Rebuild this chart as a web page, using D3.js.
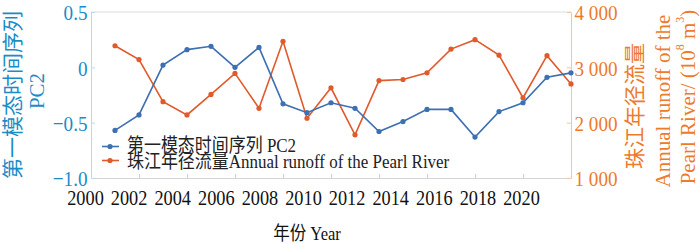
<!DOCTYPE html>
<html>
<head>
<meta charset="utf-8">
<script src="https://cdn.jsdelivr.net/npm/d3@7"></script>
<style>
  html, body { margin: 0; padding: 0; background: #fff; }
  svg { display: block; }
  text { font-family: "Liberation Serif", "Noto Sans CJK SC", serif; }
</style>
</head>
<body>
<svg id="chart" width="700" height="244"></svg>
<script>
const years = [2001,2002,2003,2004,2005,2006,2007,2008,2009,2010,2011,2012,2013,2014,2015,2016,2017,2018,2019,2020];
const pc2 = [-0.57,-0.43,0.02,0.16,0.19,0.0,0.18,-0.33,-0.41,-0.32,-0.37,-0.58,-0.49,-0.38,-0.38,-0.63,-0.40,-0.32,-0.09,-0.05];
const runoff = [3390,3140,2380,2140,2510,2890,2260,3470,2080,2630,1780,2760,2780,2900,3330,3500,3220,2450,3210,2700];
const xTicks = [2000,2002,2004,2006,2008,2010,2012,2014,2016,2018,2020];
const leftTicks = [0.5,0,-0.5,-1.0];
const rightTicks = [4000,3000,2000,1000];
const seriesNames = ["第一模态时间序列 PC2","珠江年径流量Annual runoff of the Pearl River"];

const W = 700, H = 244;
const m = {left: 91, right: 129, top: 12, bottom: 66};
const svg = d3.select("#chart");
const SX = 0.87;

const x = d3.scaleLinear().domain([2000,2020]).range([m.left, W - m.right]);
const xLab = d3.scaleLinear().domain([2000,2020]).range([85, 521]);
const yL = d3.scaleLinear().domain([-1.0,0.5]).range([H - m.bottom, m.top]);
const yR = d3.scaleLinear().domain([1000,4000]).range([H - m.bottom, m.top]);

const blue = "#3d6fb3", red = "#e05a2b";
const blueText = "#1a8cc8", orangeText = "#ee7a2c";

// top border
svg.append("line").attr("x1", m.left).attr("x2", W - m.right)
  .attr("y1", m.top).attr("y2", m.top).attr("stroke", "#dcdcdc").attr("stroke-width", 1);

// bottom axis (ticks)
const gx = svg.append("g").attr("transform", `translate(0,${H - m.bottom})`)
  .call(d3.axisBottom(x).tickValues(xTicks).tickSize(-4).tickSizeOuter(0).tickFormat(""));
gx.select(".domain").attr("stroke", "#d4d4d4");
gx.selectAll(".tick line").attr("stroke", "#cfcfcf");

// bottom labels
const gxl = svg.append("g").attr("transform", `translate(0,${H - m.bottom})`)
  .call(d3.axisBottom(xLab).tickValues(xTicks).tickSize(0).tickPadding(12).tickFormat(d3.format("d")));
gxl.select(".domain").remove();
gxl.selectAll("text").attr("font-size", 21).attr("fill", "#111")
  .attr("font-family", "Liberation Serif").attr("transform", `scale(${SX},1)`);

// left axis
const gl = svg.append("g").attr("transform", `translate(${m.left},0)`)
  .call(d3.axisLeft(yL).tickValues(leftTicks).tickSize(-4).tickSizeOuter(0).tickPadding(4)
    .tickFormat(d => d === 0 ? "0" : d3.format(".1f")(d).replace("-", "−")));
gl.select(".domain").attr("stroke", "#b9dbf0");
gl.selectAll(".tick line").attr("stroke", "#b9dbf0");
gl.selectAll("text").attr("font-size", 22).attr("fill", blueText)
  .attr("font-family", "Liberation Serif").attr("dy", "0.36em").attr("transform", `scale(${SX},1)`);

// right axis
const gr = svg.append("g").attr("transform", `translate(${W - m.right},0)`)
  .call(d3.axisRight(yR).tickValues(rightTicks).tickSize(-4).tickSizeOuter(0).tickPadding(4)
    .tickFormat(d => d3.format(",")(d).replace(",", " ")));
gr.select(".domain").attr("stroke", "#f6c3a3");
gr.selectAll(".tick line").attr("stroke", "#f6c3a3");
gr.selectAll("text").attr("font-size", 22).attr("fill", orangeText)
  .attr("font-family", "Liberation Serif").attr("dy", "0.36em").attr("transform", `scale(${SX},1)`);

// lines
const lineL = d3.line().x((d,i) => x(years[i])).y(d => yL(d));
const lineR = d3.line().x((d,i) => x(years[i])).y(d => yR(d));

svg.append("path").datum(runoff).attr("d", lineR).attr("fill", "none")
  .attr("stroke", red).attr("stroke-width", 1.6);
svg.append("g").selectAll("circle").data(runoff).join("circle")
  .attr("cx", (d,i) => x(years[i])).attr("cy", d => yR(d)).attr("r", 2.6).attr("fill", red);

svg.append("path").datum(pc2).attr("d", lineL).attr("fill", "none")
  .attr("stroke", blue).attr("stroke-width", 1.6);
svg.append("g").selectAll("circle").data(pc2).join("circle")
  .attr("cx", (d,i) => x(years[i])).attr("cy", d => yL(d)).attr("r", 2.6).attr("fill", blue);

// legend
const legColors = [blue, red];
const legY = [146.5, 160.5];
const legBase = [152, 167.5];
seriesNames.forEach((name, i) => {
  const g = svg.append("g");
  g.append("line").attr("x1", 102).attr("x2", 119).attr("y1", legY[i]).attr("y2", legY[i])
    .attr("stroke", legColors[i]).attr("stroke-width", 1.6);
  g.append("circle").attr("cx", 110).attr("cy", legY[i]).attr("r", 2.6).attr("fill", legColors[i]);
  g.append("text").attr("transform", `translate(127,${legBase[i]}) scale(${SX},1)`)
    .attr("font-size", 19.5).attr("fill", "#222").text(name);
});

// x title
svg.append("text").attr("transform", `translate(307,240) scale(${SX},1)`)
  .attr("text-anchor", "middle").attr("font-size", 19).attr("fill", "#111").text("年份 Year");

// left title
svg.append("text").attr("transform", "translate(13,95) rotate(-90)")
  .attr("text-anchor", "middle").attr("dominant-baseline", "central")
  .attr("font-size", 21).attr("fill", blueText).text("第一模态时间序列");
svg.append("text").attr("transform", "translate(37,91) rotate(-90)")
  .attr("text-anchor", "middle").attr("dominant-baseline", "central")
  .attr("font-size", 21).attr("fill", blueText).text("PC2");

// right title
svg.append("text").attr("transform", "translate(635,106) rotate(-90)")
  .attr("text-anchor", "middle").attr("dominant-baseline", "central")
  .attr("font-size", 21).attr("fill", orangeText).text("珠江年径流量");
svg.append("text").attr("transform", "translate(663,101) rotate(-90)")
  .attr("text-anchor", "middle").attr("dominant-baseline", "central")
  .attr("font-size", 21).attr("fill", orangeText).text("Annual runoff of the");
const t3 = svg.append("text").attr("transform", "translate(688,97) rotate(-90)")
  .attr("text-anchor", "middle").attr("dominant-baseline", "central")
  .attr("font-size", 21).attr("fill", orangeText);
t3.append("tspan").text("Pearl River/ (10");
t3.append("tspan").attr("font-size", 12).attr("dy", -8).text("8");
t3.append("tspan").attr("dy", 8).text(" m");
t3.append("tspan").attr("font-size", 12).attr("dy", -8).text("3");
t3.append("tspan").attr("dy", 8).text(")");
</script>
</body>
</html>
